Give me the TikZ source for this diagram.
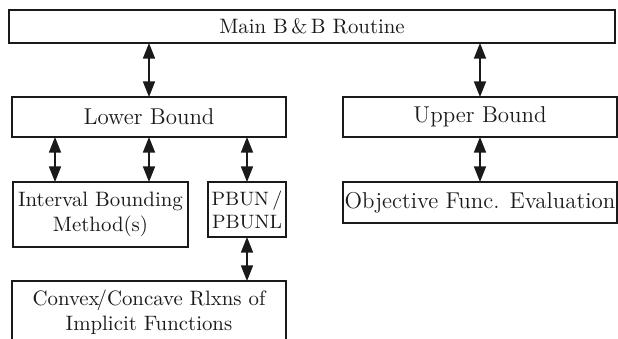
\documentclass[tikz,border=0pt]{standalone}
\usepackage{amsmath,amssymb}
\usepackage{xcolor}
\usepackage{tikz}
\usetikzlibrary{positioning, arrows.meta, calc}
\definecolor{bbInk}{HTML}{1A1A1A}
\newcommand{\bbpx}{0.48pt}
\tikzset{
  bbbox/.style={draw=bbInk, line width=0.75pt, inner sep=0pt, outer sep=0pt,
    align=center, text=bbInk, font=\normalsize},
  bbwide/.style={bbbox, font=\fontsize{11}{13}\selectfont},
  bbnarrow/.style={bbbox, font=\fontsize{9.3}{11}\selectfont},
  bbarrow/.style={{Triangle[length=7.5pt, width=5.8pt]}-{Triangle[length=7.5pt, width=5.8pt]},
    draw=bbInk, fill=bbInk, line width=0.7pt},
}

\begin{document}
\begin{tikzpicture}[x=\bbpx, y=-\bbpx]
  \useasboundingbox (0,0) rectangle (618,339);
  \node[bbbox, minimum width=606*\bbpx, minimum height=33*\bbpx] (main) at (312,26.5) {Main B\,\&\,B Routine};
  \node[bbwide, minimum width=274*\bbpx, minimum height=40*\bbpx] (lb) at (149,117) {Lower Bound};
  \node[bbwide, minimum width=274*\bbpx, minimum height=40*\bbpx] (ub) at (480,117) {Upper Bound};
  \node[bbbox, minimum width=175*\bbpx, minimum height=65*\bbpx] (ib) at (100.5,214.5) {Interval Bounding\\Method(s)};
  \node[bbnarrow, minimum width=78*\bbpx, minimum height=55*\bbpx] (pb) at (247,209.5) {PBUN\,/\\PBUNL};
  \node[bbwide, minimum width=274*\bbpx, minimum height=41*\bbpx] (obj) at (480,202.5) {Objective Func. Evaluation};
  \node[bbbox, minimum width=274*\bbpx, minimum height=62*\bbpx] (cvx) at (149,312) {Convex\kern-1.5pt/Concave Rlxns of\\Implicit Functions};
  % connectors
  \draw[bbarrow] (main.south -| lb.north) -- (lb.north);
  \draw[bbarrow] (main.south -| ub.north) -- (ub.north);
  \draw[bbarrow] ([xshift=-94*\bbpx]lb.south) -- ([xshift=-94*\bbpx]lb.south |- ib.north);
  \draw[bbarrow] (lb.south) -- (lb.south |- ib.north);
  \draw[bbarrow] (lb.south -| pb.north) -- (pb.north);
  \draw[bbarrow] (ub.south) -- (obj.north);
  \draw[bbarrow] (pb.south) -- (pb.south |- cvx.north);
\end{tikzpicture}
\end{document}
